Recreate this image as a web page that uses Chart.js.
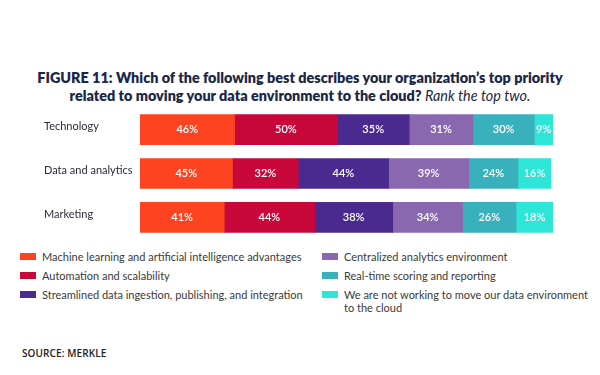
<!DOCTYPE html>
<html>
<head>
<meta charset="utf-8">
<script src="https://cdn.jsdelivr.net/npm/chart.js@4"></script>
<style>
  html,body{margin:0;padding:0;background:#fff;}
  body{width:600px;height:375px;position:relative;overflow:hidden;font-family:Lato,"Open Sans",sans-serif;}
  #title{position:absolute;top:69px;left:0;width:600px;text-align:center;color:#1c2748;font-weight:800;font-size:14.4px;line-height:18px;}
  #title i{font-weight:400;}
  #wrap{position:absolute;top:101px;left:0;width:600px;height:145px;}
  #legend{position:absolute;top:250px;left:20px;width:580px;display:grid;grid-template-columns:302px 270px;grid-auto-flow:column;grid-template-rows:repeat(3,auto);font-size:11px;color:#3a3a3a;line-height:13px;}
  #legend div{display:flex;align-items:flex-start;margin-bottom:6px;}
  #legend span.sw{width:16px;height:7px;margin:3px 6px 0 0;flex:none;}
  #source{position:absolute;top:346px;left:22px;font-family:"Open Sans",sans-serif;font-weight:600;font-size:10px;color:#222;letter-spacing:0.1px;}
</style>
</head>
<body>
<div id="title">FIGURE 11: Which of the following best describes your organization’s top priority<br>related to moving your data environment to the cloud? <i>Rank the top two.</i></div>
<div id="wrap"><canvas id="c"></canvas></div>
<div id="legend"></div>
<div id="source">SOURCE: MERKLE</div>
<script>
(function(){
  const categories = ['Technology','Data and analytics','Marketing'];
  const seriesNames = [
    'Machine learning and artificial intelligence advantages',
    'Automation and scalability',
    'Streamlined data ingestion, publishing, and integration',
    'Centralized analytics environment',
    'Real-time scoring and reporting',
    'We are not working to move our data environment to the cloud'
  ];
  const mlAi = [46,45,41];
  const automation = [50,32,44];
  const streamlined = [35,44,38];
  const centralized = [31,39,34];
  const realtime = [30,24,26];
  const notMoving = [9,16,18];
  const colors = ['#fe4321','#c8073a','#4a2a8e','#8a68b0','#38b1bd','#2ee6d8'];

  const values = [mlAi,automation,streamlined,centralized,realtime,notMoving];
  const datasets = values.map((v,i)=>({ label: seriesNames[i], data: v, backgroundColor: colors[i], borderWidth: 0, barThickness: 30 }));

  // white % labels centred in each segment
  const segLabels = {
    id:'segLabels',
    afterDatasetsDraw(chart){
      const ctx = chart.ctx;
      ctx.save();
      ctx.fillStyle = '#fff';
      ctx.font = '600 11px Lato, "Open Sans", sans-serif';
      ctx.textAlign = 'center'; ctx.textBaseline = 'middle';
      chart.data.datasets.forEach((ds,i)=>{
        chart.getDatasetMeta(i).data.forEach((el,j)=>{
          const cx = (el.x + el.base)/2;
          ctx.fillText(ds.data[j] + '%', cx, el.y);
        });
      });
      ctx.restore();
    }
  };

  new Chart(document.getElementById('c'), {
    type:'bar',
    data:{ labels: categories, datasets },
    plugins:[segLabels],
    options:{
      indexAxis:'y', responsive:true, maintainAspectRatio:false, animation:false,
      layout:{ padding:{ left:44, right:47, top:0, bottom:0 } },
      plugins:{ legend:{ display:false }, tooltip:{ enabled:false } },
      scales:{
        x:{ stacked:true, display:false, min:0, max:201 },
        y:{ stacked:true, grid:{ display:false }, border:{ display:false },
            afterFit: s => { s.width = 96; },
            ticks:{ crossAlign:'far', padding:0, labelOffset:-3, color:'#2b2b3a', font:{ family:'Lato, "Open Sans", sans-serif', size:11 } } }
      }
    }
  });

  const leg = document.getElementById('legend');
  leg.innerHTML = seriesNames.map((n,i)=>`<div><span class="sw" style="background:${colors[i]}"></span><span>${n}</span></div>`).join('');
})();
</script>
</body>
</html>
